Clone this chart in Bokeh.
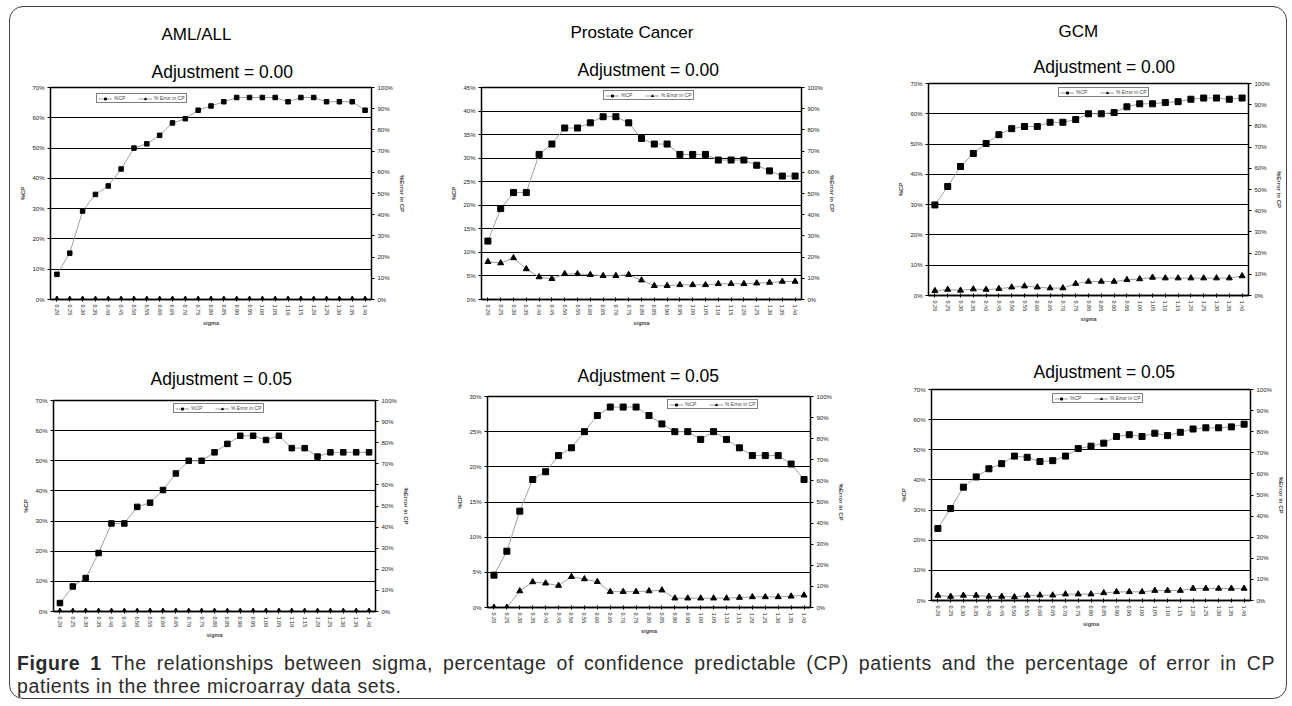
import math
from bokeh.plotting import figure
from bokeh.models import (FactorRange, Range1d, LinearAxis, FixedTicker, PrintfTickFormatter,
                          Title, Legend, LegendItem, Div)
from bokeh.layouts import column, row
from bokeh.embed import file_html
from bokeh.resources import INLINE

# ---------------- data ----------------
sigma = ["0.20", "0.25", "0.30", "0.35", "0.40", "0.45", "0.50", "0.55", "0.60", "0.65",
         "0.70", "0.75", "0.80", "0.85", "0.90", "0.95", "1.00", "1.05", "1.10", "1.15",
         "1.20", "1.25", "1.30", "1.35", "1.40"]

datasets = ["AML/ALL", "Prostate Cancer", "GCM"]
adjustments = ["Adjustment = 0.00", "Adjustment = 0.05"]

aml_cp_000 = [8.3, 15.3, 29.2, 34.7, 37.5, 43.1, 50.0, 51.4, 54.2, 58.3, 59.7, 62.5, 63.9,
              65.3, 66.7, 66.7, 66.7, 66.7, 65.3, 66.7, 66.7, 65.3, 65.3, 65.3, 62.5]
aml_err_000 = [0.0] * 25

pro_cp_000 = [12.4, 19.3, 22.7, 22.7, 30.8, 33.0, 36.4, 36.4, 37.5, 38.8, 38.8, 37.5, 34.2,
              33.0, 33.0, 30.8, 30.8, 30.8, 29.6, 29.6, 29.6, 28.5, 27.3, 26.2, 26.2]
pro_err_000 = [17.8, 17.2, 19.6, 14.4, 10.6, 9.8, 12.1, 12.1, 11.7, 11.2, 11.2, 11.7, 9.1,
               6.5, 6.5, 6.9, 6.9, 6.9, 7.4, 7.4, 7.4, 7.7, 8.0, 8.5, 8.5]

gcm_cp_000 = [29.9, 36.0, 42.6, 46.9, 50.2, 53.1, 55.1, 55.8, 55.8, 57.2, 57.2, 58.1, 60.0,
              60.0, 60.4, 62.3, 63.3, 63.3, 63.7, 64.0, 64.8, 65.2, 65.2, 64.8, 65.2]
gcm_err_000 = [2.2, 2.8, 2.4, 3.0, 2.8, 3.2, 3.9, 4.4, 3.9, 3.5, 3.5, 5.6, 6.6, 6.6, 6.6,
               7.4, 7.8, 8.5, 8.2, 8.2, 8.2, 8.2, 8.2, 8.2, 9.2]

aml_cp_005 = [2.8, 8.3, 11.1, 19.4, 29.2, 29.2, 34.7, 36.1, 40.3, 45.8, 50.0, 50.0, 52.8,
              55.6, 58.3, 58.3, 56.9, 58.3, 54.2, 54.2, 51.4, 52.8, 52.8, 52.8, 52.8]
aml_err_005 = [0.0] * 25

pro_cp_005 = [4.6, 8.0, 13.7, 18.2, 19.3, 21.6, 22.7, 25.0, 27.3, 28.5, 28.5, 28.5, 27.3,
              26.1, 25.0, 25.0, 23.9, 25.0, 23.9, 22.7, 21.6, 21.6, 21.6, 20.4, 18.2]
pro_err_005 = [0.0, 0.0, 7.8, 12.1, 11.5, 10.4, 14.6, 13.5, 12.2, 7.5, 7.5, 7.5, 7.8, 8.2,
               4.4, 4.4, 4.4, 4.4, 4.4, 4.7, 5.0, 5.0, 5.0, 5.3, 5.8]

gcm_cp_005 = [23.9, 30.5, 37.6, 41.0, 43.7, 45.4, 47.9, 47.5, 46.1, 46.4, 47.9, 50.4, 51.2,
              52.2, 54.4, 55.0, 54.4, 55.5, 54.7, 55.8, 56.9, 57.3, 57.3, 57.6, 58.5]
gcm_err_005 = [2.4, 1.9, 2.4, 2.4, 1.9, 1.9, 1.7, 2.4, 2.5, 2.5, 3.0, 3.0, 3.0, 3.6, 4.1,
               4.1, 4.1, 4.7, 4.7, 4.7, 5.7, 5.7, 5.7, 5.7, 5.7]

cp_ticks_70 = [0, 10, 20, 30, 40, 50, 60, 70]
cp_ticks_45 = [0, 5, 10, 15, 20, 25, 30, 35, 40, 45]
cp_ticks_30 = [0, 5, 10, 15, 20, 25, 30]
err_ticks = [0, 10, 20, 30, 40, 50, 60, 70, 80, 90, 100]

FONT = "Liberation Sans"
LEG_H = 10


def panel(cp, err, cp_ticks, title, header, geom, shift, title_off, title_so,
          header_off, header_so, leg_pos, sq_size):
    w, h, bl, br, bt, bb = geom
    fh = h - bt - bb
    p = figure(width=w, height=h, x_range=FactorRange(*sigma),
               y_range=Range1d(cp_ticks[0], cp_ticks[-1]),
               output_backend="svg", toolbar_location=None, title=None,
               min_border_left=bl, min_border_right=br,
               min_border_top=bt, min_border_bottom=bb,
               styles={"position": "relative", "top": "%dpx" % shift})
    p.background_fill_color = "white"
    p.border_fill_color = None
    p.outline_line_color = "black"
    p.outline_line_width = 1.5
    p.xgrid.visible = False
    p.ygrid.ticker = FixedTicker(ticks=cp_ticks)
    p.ygrid.grid_line_color = "black"
    p.ygrid.grid_line_width = 1
    p.extra_y_ranges = {"err": Range1d(err_ticks[0], err_ticks[-1])}

    l1 = p.line(sigma, cp, line_color="#a0a0a0", line_width=1)
    s1 = p.scatter(sigma, cp, marker="square", size=sq_size, fill_color="black",
                   line_color="black")
    l2 = p.line(sigma, err, y_range_name="err", line_color="#a0a0a0", line_width=1)
    s2 = p.scatter(sigma, err, y_range_name="err", marker="triangle", size=6,
                   fill_color="black", line_color="black")

    yl = p.yaxis[0]
    yl.ticker = FixedTicker(ticks=cp_ticks)
    yl.formatter = PrintfTickFormatter(format="%d%%")
    yl.axis_label = "%CP"
    yr = LinearAxis(y_range_name="err", ticker=FixedTicker(ticks=err_ticks),
                    formatter=PrintfTickFormatter(format="%d%%"),
                    axis_label="%Error in CP")
    p.add_layout(yr, "right")
    for ax in (yl, yr):
        ax.major_label_text_font = FONT
        ax.major_label_text_font_size = "6px"
        ax.major_label_text_color = "#222"
        ax.major_label_standoff = 3
        ax.axis_label_text_font = FONT
        ax.axis_label_text_font_size = "6px"
        ax.axis_label_text_font_style = "bold"
        ax.axis_label_standoff = 3
        ax.minor_tick_line_color = None
        ax.major_tick_out = 3
        ax.major_tick_in = 0
        ax.axis_line_color = "black"
        ax.axis_line_width = 1
    xa = p.xaxis[0]
    xa.major_label_orientation = "vertical"
    xa.major_label_text_font = FONT
    xa.major_label_text_font_size = "5.5px"
    xa.major_label_text_color = "#222"
    xa.major_label_standoff = 3
    xa.axis_label = "sigma"
    xa.axis_label_text_font = FONT
    xa.axis_label_text_font_size = "5.5px"
    xa.axis_label_text_font_style = "bold"
    xa.axis_label_standoff = 2
    xa.major_tick_out = 2
    xa.major_tick_in = 2
    xa.axis_line_color = "black"
    xa.axis_line_width = 1.5

    lx, ltop = leg_pos
    leg = Legend(items=[LegendItem(label="%CP", renderers=[l1, s1]),
                        LegendItem(label="% Error in CP", renderers=[l2, s2])],
                 orientation="horizontal", location=(lx, fh - ltop - LEG_H),
                 label_text_font=FONT, label_text_font_size="5px",
                 glyph_height=5, glyph_width=14, label_height=5, label_standoff=2,
                 padding=1, spacing=4, margin=0,
                 border_line_color="black", border_line_width=1,
                 background_fill_color="white", background_fill_alpha=1)
    p.add_layout(leg)

    p.add_layout(Title(text=title, align="left", offset=title_off, standoff=title_so,
                       text_font=FONT, text_font_size="17.5px",
                       text_font_style="normal", text_color="black"), "above")
    if header:
        p.add_layout(Title(text=header, align="left", offset=header_off,
                           standoff=header_so, text_font=FONT, text_font_size="17px",
                           text_font_style="normal", text_color="black"), "above")
    return p


# geometry: (width, height, min_border_left, right, top, bottom)
f1 = panel(aml_cp_000, aml_err_000, cp_ticks_70, adjustments[0], datasets[0],
           (425, 332, 40, 64, 80, 40), 0, 101, 12, 111, 20, (46, 6), 4.5)
f2 = panel(pro_cp_000, pro_err_000, cp_ticks_45, adjustments[0], datasets[1],
           (425, 332, 46, 59, 80, 40), 0, 96, 15, 89, 17, (122, 3), 6)
f3 = panel(gcm_cp_000, gcm_err_000, cp_ticks_70, adjustments[0], datasets[2],
           (426, 332, 68, 38, 80, 40), -4, 105, 14, 130, 14, (130, 4), 6)
f4 = panel(aml_cp_005, aml_err_005, cp_ticks_70, adjustments[1], None,
           (425, 308, 43, 60, 57, 40), 4, 97, 24, 0, 0, (120, 3), 5.5)
f5 = panel(pro_cp_005, pro_err_005, cp_ticks_30, adjustments[1], None,
           (425, 308, 52, 50, 57, 40), 0, 90, 22, 0, 0, (180, 3), 6)
f6 = panel(gcm_cp_005, gcm_err_005, cp_ticks_70, adjustments[1], None,
           (426, 308, 71, 35, 57, 40), -7, 102, 15, 0, 0, (121, 4), 6)

caption_html = (
    '<div style="width:1258px;white-space:normal;text-align:justify;'
    'text-align-last:justify">'
    '<b>Figure 1</b> The relationships between sigma, percentage of confidence '
    'predictable (CP) patients and the percentage of error in CP</div>'
    '<div style="width:1258px;white-space:normal">'
    'patients in the three microarray data sets.</div>'
)
cap = Div(text=caption_html, width=1258, height=46, margin=(5, 0, 0, 7),
          styles={"font-family": "Liberation Sans", "font-size": "19.5px",
                  "letter-spacing": "0.6px", "line-height": "22.5px",
                  "color": "#2b2b2b"})

layout = column(row(f1, f2, f3), row(f4, f5, f6), cap, margin=(6, 0, 0, 9),
                styles={"border": "1.5px solid #444", "border-radius": "14px"})

open("out.html", "w").write(file_html(layout, INLINE))
